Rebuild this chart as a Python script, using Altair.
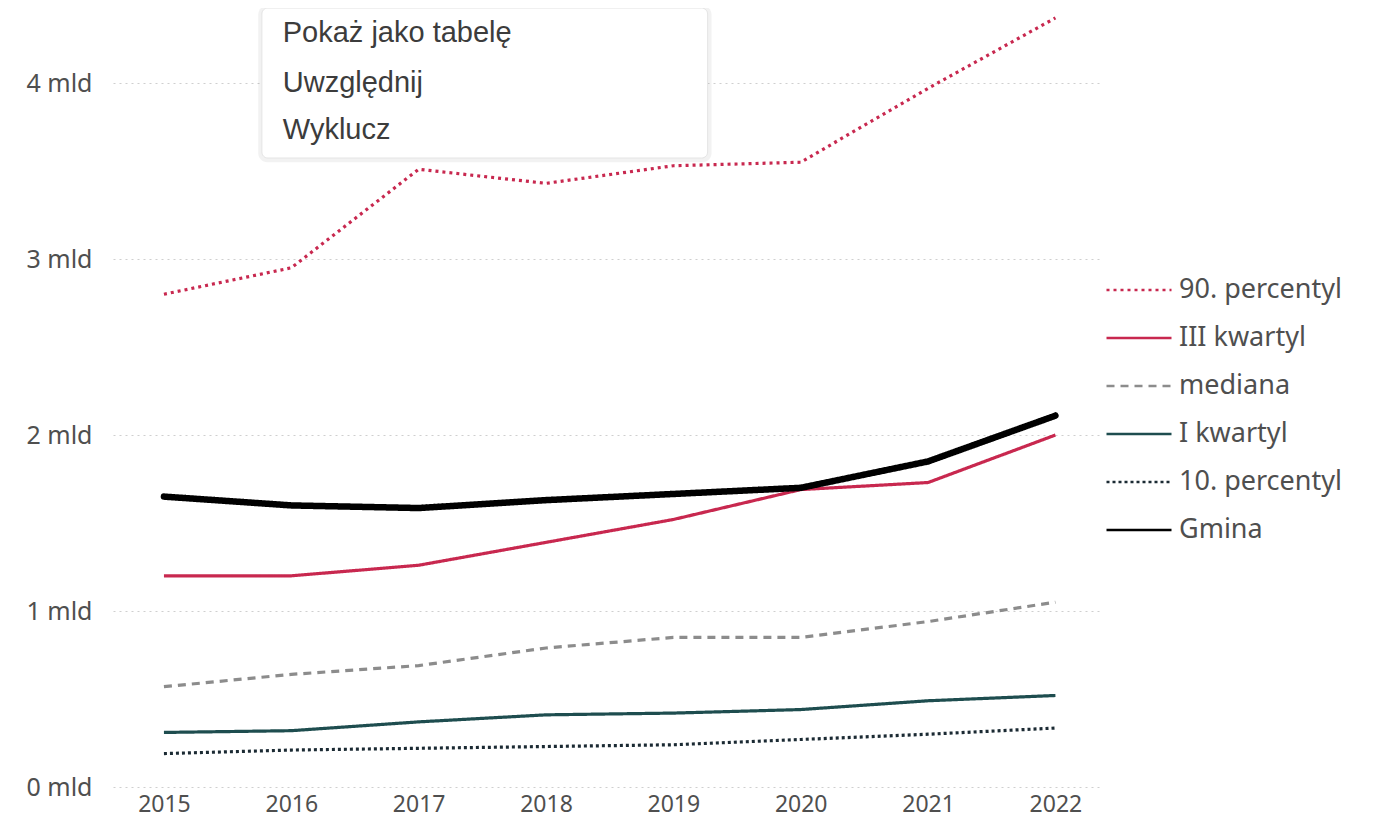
import altair as alt
import pandas as pd

years = [2015, 2016, 2017, 2018, 2019, 2020, 2021, 2022]
p90 = [2.80, 2.95, 3.51, 3.43, 3.53, 3.55, 3.97, 4.37]
q3 = [1.20, 1.20, 1.26, 1.39, 1.52, 1.69, 1.73, 2.00]
median = [0.57, 0.64, 0.69, 0.79, 0.85, 0.85, 0.94, 1.05]
q1 = [0.31, 0.32, 0.37, 0.41, 0.42, 0.44, 0.49, 0.52]
p10 = [0.19, 0.21, 0.22, 0.23, 0.24, 0.27, 0.30, 0.335]
gmina = [1.65, 1.60, 1.585, 1.63, 1.665, 1.70, 1.85, 2.11]

series_names = ["90. percentyl", "III kwartyl", "mediana", "I kwartyl", "10. percentyl", "Gmina"]
series_values = [p90, q3, median, q1, p10, gmina]
colors = ["#C8284F", "#C8284F", "#8C8C8C", "#1E4D4F", "#1B2A33", "#000000"]
dashes = [[3, 4], [1, 0], [8, 6], [1, 0], [3, 3], [1, 0]]

menu_items = ["Pokaż jako tabelę", "Uwzględnij", "Wyklucz"]
menu_item_y = [4.284, 4.0, 3.733]

rows = []
for name, vals in zip(series_names, series_values):
    for y, v in zip(years, vals):
        rows.append({"year": y, "value": v, "series": name})
df = pd.DataFrame(rows)

FONT = "Noto Sans"
LABEL_COLOR = "#4f4f4f"

x = alt.X("year:Q",
          scale=alt.Scale(domain=[2014.6, 2022.35], nice=False, zero=False),
          axis=alt.Axis(values=years, format="d", grid=False, domain=False, ticks=False,
                        labelFontSize=23, labelColor=LABEL_COLOR,
                        labelPadding=6, labelFont=FONT, title=None))
y = alt.Y("value:Q",
          scale=alt.Scale(domain=[0, 4.415], nice=False),
          axis=alt.Axis(values=[0, 1, 2, 3, 4], labelExpr="datum.value + ' mld'",
                        grid=True, gridDash=[2, 4], gridColor="#cfcfcf", gridWidth=1,
                        domain=False, ticks=False, labelFontSize=25,
                        labelColor=LABEL_COLOR, labelPadding=21, labelFont=FONT, title=None))

color = alt.Color("series:N", scale=alt.Scale(domain=series_names, range=colors),
                  sort=series_names, title=None)
dash = alt.StrokeDash("series:N", scale=alt.Scale(domain=series_names, range=dashes),
                      sort=series_names, title=None)

others = alt.Chart(df).transform_filter(alt.datum.series != "Gmina").mark_line(
    strokeWidth=3.2, strokeCap="butt").encode(x=x, y=y, color=color, strokeDash=dash,
                                             detail="series:N")
gm = alt.Chart(df).transform_filter(alt.datum.series == "Gmina").mark_line(
    strokeWidth=6.5, strokeCap="round").encode(x=x, y=y, color=color, strokeDash=dash)

menu_box = pd.DataFrame({"x": [2015.769], "x2": [2019.269], "y": [4.426], "y2": [3.574]})
shadow_box = pd.DataFrame({"x": [2015.74], "x2": [2019.30], "y": [4.44], "y2": [3.55]})
shadow = alt.Chart(shadow_box).mark_rect(cornerRadius=9, color="#000000", opacity=0.05).encode(
    x=alt.X("x:Q"), x2="x2:Q", y=alt.Y("y:Q"), y2="y2:Q")
box = alt.Chart(menu_box).mark_rect(cornerRadius=6, fill="#ffffff", stroke="#e4e4e4",
                                    strokeWidth=1).encode(
    x=alt.X("x:Q"), x2="x2:Q", y=alt.Y("y:Q"), y2="y2:Q")
menu_df = pd.DataFrame({"label": menu_items, "x": [2015.933] * 3, "y": menu_item_y})
menu_text = alt.Chart(menu_df).mark_text(align="left", baseline="middle", fontSize=29,
                                         font="Liberation Sans", color="#3c3c3c").encode(
    x=alt.X("x:Q"), y=alt.Y("y:Q"), text="label:N")

chart = alt.layer(others, gm, shadow, box, menu_text).properties(
    width=987, height=777,
    autosize=alt.AutoSizeParams(type="none"),
    padding={"left": 105, "top": 2, "right": 260, "bottom": 37},
).configure_view(stroke=None).configure_legend(
    orient="none", legendX=992, legendY=246, symbolType="stroke", symbolSize=4225,
    symbolStrokeWidth=2.5, labelFontSize=27, labelColor=LABEL_COLOR, labelLimit=300,
    labelFont=FONT, rowPadding=1, labelOffset=6, symbolOffset=0
)

chart.save("out.html", embed_options={"renderer": "svg", "actions": False})
